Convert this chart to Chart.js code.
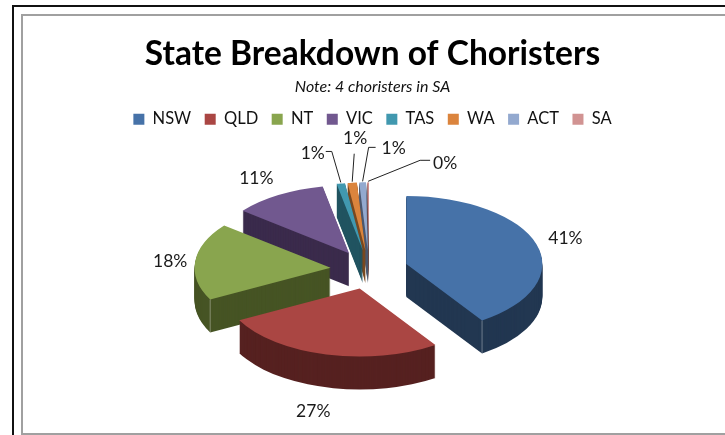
<!DOCTYPE html>
<html>
<head>
<meta charset="utf-8">
<title>State Breakdown of Choristers</title>
<script src="https://cdn.jsdelivr.net/npm/chart.js@4"></script>
<style>
    html, body { margin: 0; padding: 0; background: #fff; overflow: hidden; width: 725px; height: 435px; }
    #outer { position: absolute; left: 12px; top: 5px; width: 800px; height: 500px; border: 2px solid #111; }
    #inner { position: absolute; left: 21px; top: 14px; width: 800px; height: 417px; border: 2px solid #a0a0a0; }
    #pie { position: absolute; left: 0; top: 0; }
</style>
</head>
<body>
<div id="outer"></div>
<div id="inner"></div>
<canvas id="pie" width="725" height="435"></canvas>
<script>
const states = ['NSW', 'QLD', 'NT', 'VIC', 'TAS', 'WA', 'ACT', 'SA'];
const shares = [40.6, 26.7, 18.4, 11.2, 1.0, 1.1, 0.8, 0.2];

const topColors = ['#4672a8', '#aa4643', '#89a54e', '#71588f', '#4198af', '#db843d', '#93a9cf', '#d19392'];
const sideColors = ['#223751', '#562120', '#465424', '#3b2b4c', '#205460', '#7a4a20', '#4d5a70', '#704e4d'];

// label position relative to the outer middle of the slice
const labelNudges = [[29, -6], [-13, 57], [-25, 0], [-22, -17], [-28, -30], [3, -44], [31, -34], [77, -19]];
// leader line bend, only for the thin slices
const leaderBends = [null, null, null, null, [[-9, -32], [-15, -32]], [[2, -29]], [[6, -35], [13, -35]], [[52, -22], [62, -22]]];

const FONT = 'Lato, Carlito, sans-serif';

const pie3d = {
    id: 'pie3d',
    beforeDatasetsDraw(chart, args, opts) {
        const ctx = chart.ctx;
        const arcs = chart.getDatasetMeta(0).data;

        function place(el, mid, drop) {
            ctx.translate(el.x + opts.shiftX, el.y + opts.shiftY + drop);
            ctx.scale(1, opts.ratio);
            ctx.translate(-el.x + Math.cos(mid) * opts.explode, -el.y + Math.sin(mid) * opts.explode);
        }

        // back to front, so nearer slices cover the walls behind them
        const order = arcs.map((el, i) => i).sort((a, b) => {
            const ma = (arcs[a].startAngle + arcs[a].endAngle) / 2;
            const mb = (arcs[b].startAngle + arcs[b].endAngle) / 2;
            return Math.sin(ma) - Math.sin(mb);
        });

        order.forEach(i => {
            const el = arcs[i];
            const mid = (el.startAngle + el.endAngle) / 2;
            for (let drop = opts.depth; drop > 0; drop--) {
                ctx.save();
                place(el, mid, drop);
                ctx.beginPath();
                ctx.moveTo(el.x, el.y);
                ctx.arc(el.x, el.y, el.outerRadius, el.startAngle, el.endAngle);
                ctx.closePath();
                ctx.fillStyle = sideColors[i];
                ctx.fill();
                ctx.restore();
            }
            ctx.save();
            place(el, mid, 0);
            el.draw(ctx);
            ctx.restore();

            // thin light line on the front corner of the big slices
            const corner = states[i] === 'NSW' ? el.endAngle : states[i] === 'NT' ? el.startAngle : null;
            if (corner !== null) {
                const cx = el.x + opts.shiftX + Math.cos(mid) * opts.explode + Math.cos(corner) * el.outerRadius;
                const cy = el.y + opts.shiftY + (Math.sin(mid) * opts.explode + Math.sin(corner) * el.outerRadius) * opts.ratio;
                ctx.beginPath();
                ctx.moveTo(cx, cy);
                ctx.lineTo(cx, cy + opts.depth);
                ctx.strokeStyle = 'rgba(255,255,255,0.35)';
                ctx.lineWidth = 1;
                ctx.stroke();
            }
        });

        // percent labels and leader lines
        const total = shares.reduce((a, b) => a + b, 0);
        ctx.save();
        ctx.font = '17.5px ' + FONT;
        ctx.textAlign = 'center';
        ctx.textBaseline = 'middle';
        arcs.forEach((el, i) => {
            const mid = (el.startAngle + el.endAngle) / 2;
            const reach = el.outerRadius + opts.explode;
            const px = el.x + opts.shiftX + Math.cos(mid) * reach;
            const py = el.y + opts.shiftY + Math.sin(mid) * reach * opts.ratio;
            if (leaderBends[i]) {
                ctx.beginPath();
                ctx.moveTo(px, py - 1);
                leaderBends[i].forEach(b => ctx.lineTo(px + b[0], py + b[1]));
                ctx.strokeStyle = '#222';
                ctx.lineWidth = 1;
                ctx.stroke();
            }
            ctx.fillStyle = '#1a1a1a';
            ctx.fillText(Math.round(shares[i] / total * 100) + '%', px + labelNudges[i][0], py + labelNudges[i][1]);
        });
        ctx.restore();
        return false;
    }
};

new Chart(document.getElementById('pie'), {
    type: 'pie',
    data: {
        labels: states,
        datasets: [{
            data: shares,
            backgroundColor: topColors,
            borderWidth: 0,
            radius: 136
        }]
    },
    options: {
        responsive: false,
        animation: false,
        layout: { padding: { left: 20, top: 34, bottom: 33 } },
        plugins: {
            title: {
                display: true,
                text: 'State Breakdown of Choristers',
                color: '#000',
                font: { family: FONT, size: 33.5, weight: 'bold' },
                padding: { top: 0, bottom: 3 }
            },
            subtitle: {
                display: true,
                text: 'Note: 4 choristers in SA',
                color: '#111',
                font: { family: FONT, size: 16, style: 'italic' },
                padding: { top: 0, bottom: 1 }
            },
            legend: {
                position: 'top',
                labels: {
                    boxWidth: 11,
                    boxHeight: 11,
                    padding: 13.5,
                    color: '#111',
                    font: { family: FONT, size: 16.5 }
                }
            },
            tooltip: { enabled: false },
            pie3d: { ratio: 0.5, explode: 38.8, depth: 33, shiftX: -3.3, shiftY: 0 }
        }
    },
    plugins: [pie3d]
});
</script>
</body>
</html>
